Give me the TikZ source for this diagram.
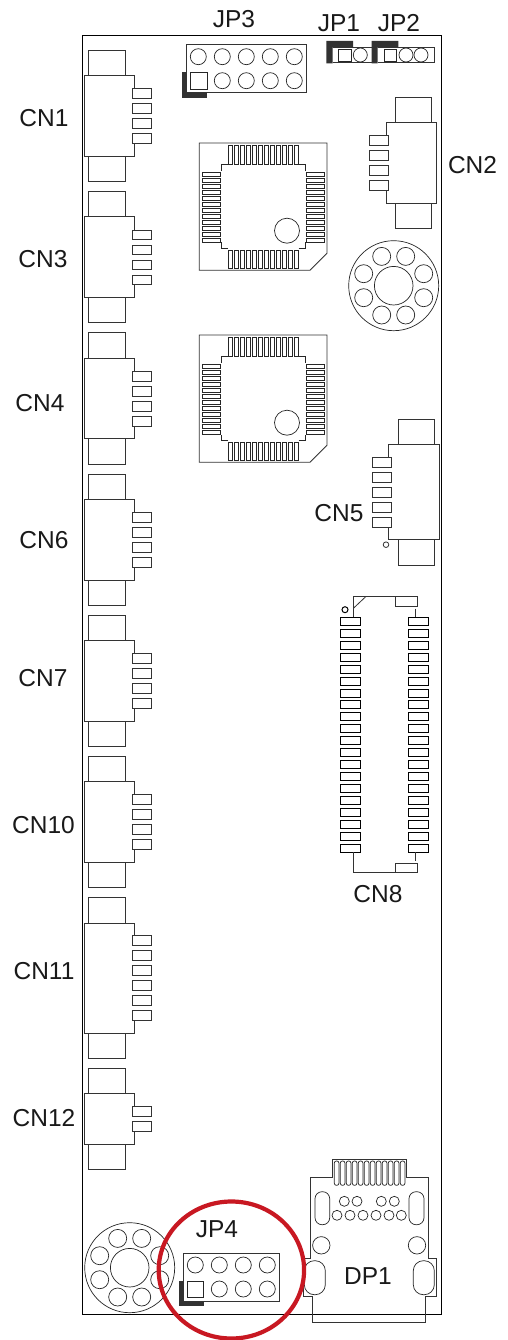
\documentclass[tikz,border=0pt]{standalone}
\usepackage{fontspec}
\setmainfont{Liberation Sans}
\definecolor{redmark}{RGB}{200,24,34}
\definecolor{darkpart}{RGB}{50,50,50}
\tikzset{
  part/.style={draw=black!80,line width=0.8pt},
  fine/.style={draw=black!85,line width=0.7pt},
  board/.style={draw=black,line width=1pt},
  shade/.style={fill=darkpart,draw=none},
  lbl/.style={font=\fontsize{24.5}{24.5}\selectfont,text=black!90,inner sep=0pt},
}
% left-hand connector: top y, bottom of body, first pin y, number of pins
\newcommand\cnleft[4]{%
  \pgfmathsetmacro\ttop{#1+25.5}\pgfmathsetmacro\bbot{#2+25.5}%
  \pgfmathsetmacro\lastpin{#3+15*(#4-1)+9.8}%
  \draw[part] (88.5,#1) rectangle (125,\ttop);
  \draw[part] (125,#2) -- (125,\bbot) -- (88.5,\bbot) -- (88.5,#2);
  \draw[part] (134.5,#3) -- (134.5,\ttop) -- (84,\ttop) -- (84,#2) -- (134.5,#2) -- (134.5,\lastpin);
  \pgfmathsetmacro\np{int(#4-1)}%
  \foreach \k in {0,...,\np}{
    \pgfmathsetmacro\pa{#3+15*\k}\pgfmathsetmacro\pb{\pa+9.8}%
    \draw[part,fill=white] (132,\pa) rectangle (151,\pb);
  }
}
% QFP package, vertical offset
\newcommand\qfp[1]{%
  \begin{scope}[yshift=-#1pt]
    \draw[part] (199.3,143) -- (327,143) -- (327,253.3) -- (310,270.3) -- (199.3,270.3) -- cycle;
    \foreach \k in {0,...,11}{
      \pgfmathsetmacro\xa{228.3+6*\k}\pgfmathsetmacro\xb{\xa+4}%
      \draw[fine] (\xa,145.3) rectangle (\xb,164);
      \draw[fine] (\xa,250) rectangle (\xb,268.7);
      \pgfmathsetmacro\ya{172.3+6*\k}\pgfmathsetmacro\yb{\ya+3.6}%
      \draw[fine] (202.3,\ya) rectangle (220.3,\yb);
      \draw[fine] (306,\ya) rectangle (324.3,\yb);
    }
    \draw[fine] (228,164.3) -- (221,164.3) -- (221,171);
    \draw[fine] (298.5,164.3) -- (305.7,164.3) -- (305.7,171);
    \draw[fine] (228,248.7) -- (221,248.7) -- (221,242.5);
    \draw[fine] (298.5,248.7) -- (305.7,248.7) -- (305.7,242.5);
    \draw[fine] (287,230.7) circle (12.5);
  \end{scope}
}
% mounting hole
\newcommand\mount[2]{%
  \begin{scope}[shift={(#1,#2)}]
    \draw[fine] (0,0) circle (45);
    \draw[fine] (0,0) circle (19.3);
    \foreach \a/\b in {-12/-29.3,12/-29.3,-30/-12,30/-12,-30/12,30/12,-12/29.3,12/29.3}
      \draw[fine] (\a,\b) circle (9);
  \end{scope}
}
\begin{document}
\begin{tikzpicture}[x=1pt,y=-1pt]
\useasboundingbox (0,0) rectangle (508,1340);
\fill[white] (0,0) rectangle (508,1340);
% board
\draw[board] (82.5,35.5) rectangle (441,1314);
% left connectors
\cnleft{50}{156}{88.7}{4}
\cnleft{191.3}{297.3}{230}{4}
\cnleft{332.5}{438.5}{371.2}{4}
\cnleft{474}{580}{512.7}{4}
\cnleft{615}{721}{653.7}{4}
\cnleft{756}{862}{794.7}{4}
\cnleft{897.5}{1033}{935.7}{6}
\cnleft{1068.3}{1144.3}{1106.7}{2}
% CN2
\draw[part] (395,97.3) rectangle (431.3,122.5);
\draw[part] (395,203) rectangle (431.3,228.5);
\draw[part] (386,135.7) -- (386,122.5) -- (436,122.5) -- (436,203) -- (386,203) -- (386,190.3);
\foreach \y in {135.7,150.5,165.3,180.3}
  \draw[part,fill=white] (369,\y) rectangle (388.3,\y+9.8);
% CN5
\draw[part] (398.3,419.3) rectangle (434.7,444.3);
\draw[part] (398.3,539.7) rectangle (434.7,565.3);
\draw[part] (388.7,457.3) -- (388.7,444.3) -- (439.3,444.3) -- (439.3,539.7) -- (388.7,539.7) -- (388.7,527);
\foreach \y in {457.3,472.3,487.3,502.3,517.3}
  \draw[part,fill=white] (372,\y) rectangle (391.3,\y+9.8);
\draw[part] (386,544.7) circle (2.8);
% CN8
\foreach \k in {0,...,19}{
  \pgfmathsetmacro\pa{617.3+11.95*\k}\pgfmathsetmacro\pb{\pa+8}%
  \draw[board] (340.7,\pa) rectangle (360.3,\pb);
  \draw[board] (408.7,\pa) rectangle (428.3,\pb);
}
\draw[part] (395.3,596.7) rectangle (417.7,606.7);
\draw[part] (353.7,617.3) -- (353.7,596.7) -- (395.3,596.7);
\draw[part] (353.7,608) -- (365.7,596.7);
\draw[part] (415,608.5) -- (415,617.3);
\draw[board] (345,609.7) circle (3);
\draw[part] (395.3,863.3) rectangle (417.7,872.7);
\draw[part] (353.7,852.3) -- (353.7,872.7) -- (395.3,872.7);
\draw[part] (415,852.3) -- (415,861);
% ICs
\qfp{0}
\qfp{192}
% mounting holes
\mount{393.7}{285.7}
\mount{129.7}{1267.7}
% JP3
\draw[shade] (181.8,72.3) rectangle (186.3,97.6);
\draw[shade] (181.8,92) rectangle (207,97.6);
\draw[part,fill=white] (186.3,44.7) rectangle (306.3,92.3);
\foreach \x in {198.3,222.3,246.3,270.3,294.3}
  \draw[fine] (\x,56.7) circle (8);
\foreach \x in {222.3,246.3,270.3,294.3}
  \draw[fine] (\x,80.7) circle (8);
\draw[fine] (190.3,72.7) rectangle (207,89);
% JP1
\fill[darkpart] (326.3,41) -- (353,41) -- (353,47.3) -- (332.7,47.3) -- (332.7,63.5) -- (326.3,63.5) -- cycle;
\draw[part] (332.7,47.3) -- (371.7,47.3);
\draw[part] (332.7,62.7) -- (371.7,62.7);
\draw[fine] (338.3,49) rectangle (351.7,61);
\draw[fine] (360.3,55) circle (7);
% JP2
\fill[darkpart] (371.7,41) -- (398.3,41) -- (398.3,47.3) -- (377.5,47.3) -- (377.5,63.5) -- (371.7,63.5) -- cycle;
\draw[part] (377.5,47.3) -- (434,47.3) -- (434,62.7) -- (377.5,62.7);
\draw[fine] (384,49) rectangle (396.7,61);
\draw[fine] (406,55) circle (7);
\draw[fine] (421,55) circle (7);
% JP4
\draw[shade] (178.8,1280.7) rectangle (183.7,1305.6);
\draw[shade] (178.8,1300.5) rectangle (203.7,1305.6);
\draw[part,fill=white] (183.7,1253) rectangle (279.3,1301);
\foreach \x in {195.3,219.3,243.3,267.3}
  \draw[fine] (\x,1265) circle (8);
\foreach \x in {219.3,243.3,267.3}
  \draw[fine] (\x,1289) circle (8);
\draw[fine] (187.3,1281) rectangle (203.7,1297);
% DP1
\draw[part] (310.7,1177.3) -- (332.3,1177.3) -- (332.3,1159) -- (406.3,1159) -- (406.3,1177.3) -- (428,1177.3) -- (428,1258.3) -- (436.7,1258.3) -- (436.7,1296.7) -- (425.7,1296.7) -- (425.7,1322) -- (312.7,1322) -- (312.7,1296.7) -- (303,1296.7) -- (303,1258.3) -- (310.7,1258.3) -- cycle;
\foreach \k in {0,...,11}{
  \pgfmathsetmacro\xa{334.3+6*\k}\pgfmathsetmacro\xb{\xa+4.6}%
  \draw[fine,rounded corners=2pt] (\xa,1161) rectangle (\xb,1185.3);
}
\draw[fine,rounded corners=7pt] (315,1191.7) rectangle (329.7,1224.7);
\draw[fine,rounded corners=7pt] (409,1191.7) rectangle (424,1224.7);
\foreach \x in {344.3,357,381.3,394.3}
  \draw[fine] (\x,1201.3) circle (5);
\foreach \x in {337,350,363,376,389,401.3}
  \draw[fine] (\x,1215.3) circle (5);
\draw[fine] (321.3,1245.3) circle (8.7);
\draw[fine] (417,1245.3) circle (8.7);
\draw[fine,rounded corners=10pt,fill=white] (304.3,1260.7) rectangle (325.3,1294.7);
\draw[fine,rounded corners=10pt,fill=white] (413.3,1260.7) rectangle (434.3,1294.7);
% labels
\node[lbl] (cn1) at (44,118) {CN1};
\node[lbl] (cn3) at (43,259) {CN3};
\node[lbl] (cn4) at (40,403) {CN4};
\node[lbl] (cn6) at (44,540) {CN6};
\node[lbl] (cn7) at (43,678) {CN7};
\node[lbl] (cn10) at (43.5,825) {CN10};
\node[lbl] (cn11) at (44,971) {CN11};
\node[lbl] (cn12) at (44,1118) {CN12};
\node[lbl] (cn2) at (472.5,165) {CN2};
\node[lbl] (cn5) at (339,513.5) {CN5};
\node[lbl] (cn8) at (378,894) {CN8};
\node[lbl] (jp3) at (234,19.5) {JP3};
\node[lbl] (jp1) at (339,23) {JP1};
\node[lbl] (jp2) at (399,23) {JP2};
\node[lbl] (jp4) at (217,1229) {JP4};
\node[lbl] (dp1) at (368,1276) {DP1};
% red mark
\draw[redmark,line width=4.2pt] (231.4,1270) ellipse (72.7 and 68.5);
\end{tikzpicture}
\end{document}
